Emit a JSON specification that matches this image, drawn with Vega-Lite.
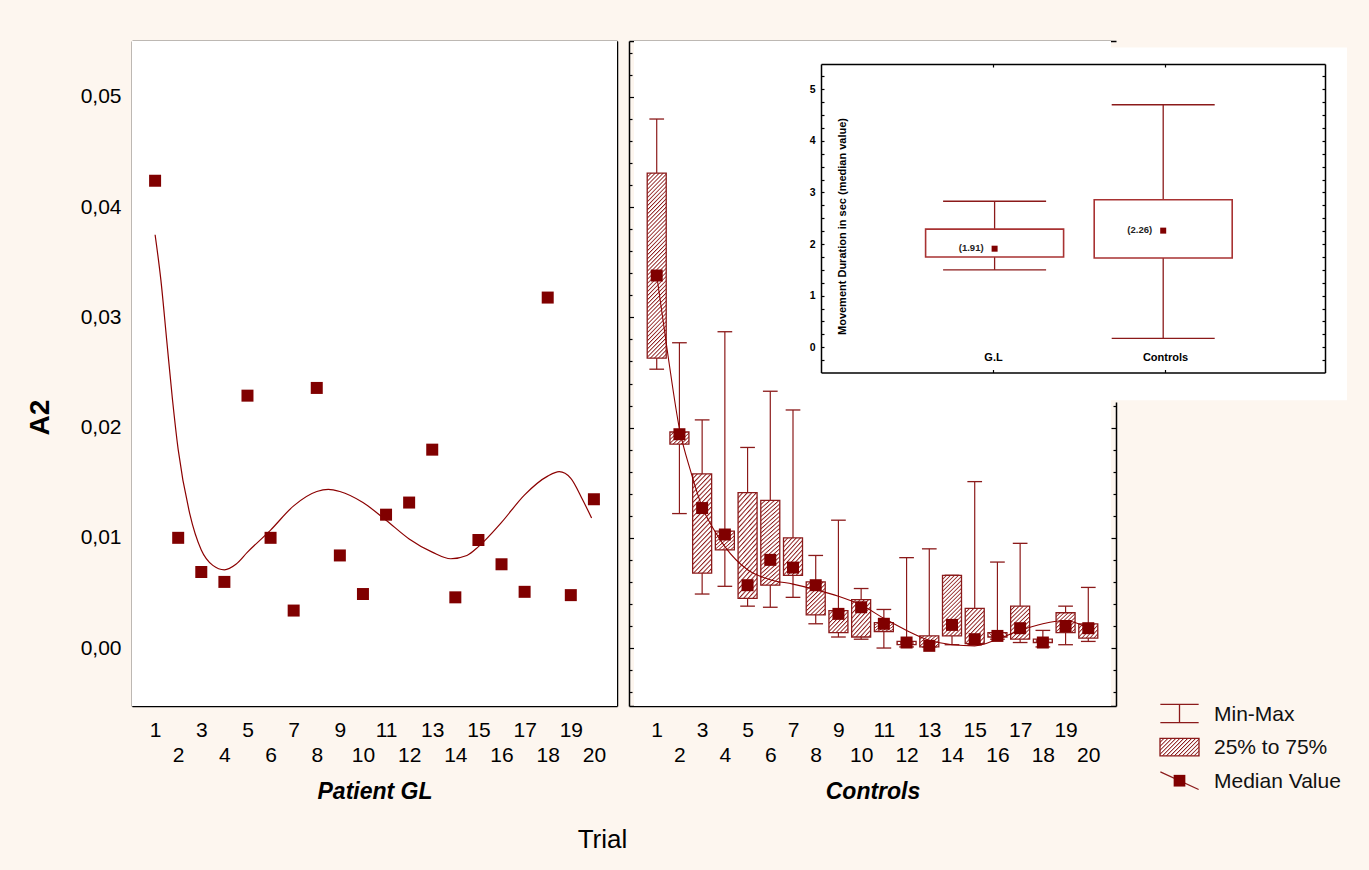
{
"$schema":"https://vega.github.io/schema/vega-lite/v6.json",
"width":1369,"height":870,"padding":0,"autosize":{"type":"none"},
"background":"#fdf6ef",
"config":{"view":{"stroke":null},"font":"Liberation Sans","text":{"font":"Liberation Sans"},
"axis":{"zindex":1,"grid":false,"domainColor":"#000","tickColor":"#000","domainWidth":1.5,"tickWidth":1.2,"labelColor":"#000","titleColor":"#000","labelFont":"Liberation Sans","titleFont":"Liberation Sans"}},
"datasets":{
"patient":[{"trial":1,"a2":0.0424},{"trial":2,"a2":0.0100},{"trial":3,"a2":0.0069},{"trial":4,"a2":0.0060},{"trial":5,"a2":0.0229},{"trial":6,"a2":0.0100},{"trial":7,"a2":0.0034},{"trial":8,"a2":0.0236},{"trial":9,"a2":0.0084},{"trial":10,"a2":0.0049},{"trial":11,"a2":0.0121},{"trial":12,"a2":0.0132},{"trial":13,"a2":0.0180},{"trial":14,"a2":0.0046},{"trial":15,"a2":0.0098},{"trial":16,"a2":0.0076},{"trial":17,"a2":0.0051},{"trial":18,"a2":0.0318},{"trial":19,"a2":0.0048},{"trial":20,"a2":0.0135}],
"patientFit":[{"trial":1,"fit":0.0375},{"trial":1.25,"fit":0.0334},{"trial":1.5,"fit":0.028},{"trial":1.75,"fit":0.0226},{"trial":2,"fit":0.018},{"trial":2.5,"fit":0.0122},{"trial":3,"fit":0.0089},{"trial":3.5,"fit":0.0075},{"trial":4,"fit":0.0071},{"trial":4.5,"fit":0.0076},{"trial":5,"fit":0.0087},{"trial":6,"fit":0.0107},{"trial":7,"fit":0.0129},{"trial":8,"fit":0.0142},{"trial":8.5,"fit":0.0144},{"trial":9,"fit":0.0142},{"trial":10,"fit":0.0132},{"trial":11,"fit":0.0116},{"trial":12,"fit":0.0099},{"trial":13,"fit":0.0087},{"trial":13.8,"fit":0.0081},{"trial":14.5,"fit":0.0084},{"trial":15,"fit":0.0092},{"trial":16,"fit":0.0114},{"trial":17,"fit":0.0139},{"trial":18,"fit":0.0156},{"trial":18.5,"fit":0.016},{"trial":19,"fit":0.0154},{"trial":19.5,"fit":0.0135},{"trial":19.9,"fit":0.0118}],
"controls":[
{"trial":1,"min":0.0253,"q1":0.0263,"median":0.0338,"q3":0.0431,"max":0.0480},
{"trial":2,"min":0.0122,"q1":0.0185,"median":0.0194,"q3":0.0196,"max":0.0277},
{"trial":3,"min":0.0049,"q1":0.0068,"median":0.0127,"q3":0.0158,"max":0.0207},
{"trial":4,"min":0.0056,"q1":0.0089,"median":0.0103,"q3":0.0106,"max":0.0287},
{"trial":5,"min":0.0038,"q1":0.0045,"median":0.0057,"q3":0.0141,"max":0.0182},
{"trial":6,"min":0.0037,"q1":0.0057,"median":0.0080,"q3":0.0134,"max":0.0233},
{"trial":7,"min":0.0046,"q1":0.0066,"median":0.0073,"q3":0.0100,"max":0.0216},
{"trial":8,"min":0.0022,"q1":0.0030,"median":0.0057,"q3":0.0060,"max":0.0084},
{"trial":9,"min":0.0010,"q1":0.0014,"median":0.0031,"q3":0.0034,"max":0.0116},
{"trial":10,"min":0.0008,"q1":0.0010,"median":0.0037,"q3":0.0044,"max":0.0054},
{"trial":11,"min":0.0000,"q1":0.0015,"median":0.0022,"q3":0.0023,"max":0.0035},
{"trial":12,"min":0.0001,"q1":0.0003,"median":0.0005,"q3":0.0006,"max":0.0082},
{"trial":13,"min":0.0001,"q1":0.0001,"median":0.0002,"q3":0.0011,"max":0.0090},
{"trial":14,"min":0.0003,"q1":0.0011,"median":0.0021,"q3":0.0066,"max":0.0066},
{"trial":15,"min":0.0003,"q1":0.0004,"median":0.0008,"q3":0.0036,"max":0.0151},
{"trial":16,"min":0.0008,"q1":0.0010,"median":0.0011,"q3":0.0014,"max":0.0078},
{"trial":17,"min":0.0005,"q1":0.0008,"median":0.0018,"q3":0.0038,"max":0.0095},
{"trial":18,"min":0.0001,"q1":0.0005,"median":0.0005,"q3":0.0008,"max":0.0016},
{"trial":19,"min":0.0003,"q1":0.0014,"median":0.0020,"q3":0.0032,"max":0.0038},
{"trial":20,"min":0.0006,"q1":0.0009,"median":0.0018,"q3":0.0022,"max":0.0055}],
"controlsFit":[{"trial":1,"fit":0.0338},{"trial":1.5,"fit":0.0265},{"trial":2,"fit":0.0199},{"trial":2.5,"fit":0.016},{"trial":3,"fit":0.0128},{"trial":3.5,"fit":0.0108},{"trial":4,"fit":0.0092},{"trial":5,"fit":0.0071},{"trial":6,"fit":0.0062},{"trial":7,"fit":0.0058},{"trial":8,"fit":0.0053},{"trial":9,"fit":0.0047},{"trial":10,"fit":0.0039},{"trial":11,"fit":0.0027},{"trial":12,"fit":0.0016},{"trial":13,"fit":0.0007},{"trial":14,"fit":0.0003},{"trial":15,"fit":0.0002},{"trial":16,"fit":0.0008},{"trial":17,"fit":0.0016},{"trial":18,"fit":0.0022},{"trial":19,"fit":0.0025},{"trial":20,"fit":0.0018}],
"inset":[{"group":"G.L","pos":1,"min":1.50,"q1":1.75,"median":1.91,"q3":2.29,"max":2.83,"label":"(1.91)"},{"group":"Controls","pos":2,"min":0.17,"q1":1.73,"median":2.26,"q3":2.86,"max":4.70,"label":"(2.26)"}],
"legend":[{"item":"Min-Max","row":0},{"item":"25% to 75%","row":1},{"item":"Median Value","row":2}]
},
"resolve":{"scale":{"x":"independent","y":"independent"},"axis":{"x":"independent","y":"independent"}},
"layer":[
{"layer":[
 {"data":{"values":[{}]},"mark":{"type":"rect","fill":"#ffffff"},
  "encoding":{
   "x":{"datum":0,"type":"quantitative","scale":{"domain":[0,21],"range":[132,617],"nice":false,"zero":false},
     "axis":{"orient":"bottom","offset":-164,"values":[1,2,3,4,5,6,7,8,9,10,11,12,13,14,15,16,17,18,19,20],"format":"d","tickSize":-6,"labelPadding":19,"labelFontSize":21,"labelLineHeight":25,"labelBaseline":"top","labelExpr":"datum.value % 2 == 0 ? ['', datum.label] : datum.label","labelOverlap":false,"labelFlush":false,"title":"Patient GL","titleFontSize":23,"titleFontWeight":"bold","titleFontStyle":"italic","titleY":92,"titleBaseline":"alphabetic"}},
   "x2":{"datum":21},
   "y":{"datum":-0.00526,"type":"quantitative","scale":{"domain":[-0.00526,0.05508],"range":[706,41],"nice":false,"zero":false},
     "axis":{"orient":"left","offset":-132,"values":[0,0.01,0.02,0.03,0.04,0.05],"tickSize":-5,"labelPadding":16,"labelFontSize":21,"labelExpr":"replace(format(datum.value,'.2f'),'.',',')","labelOverlap":false,"title":"A2","titleFontSize":28,"titleFontWeight":"bold","titleX":-92,"titleY":417,"titleAngle":-90,"titleAlign":"center","titleBaseline":"middle"}},
   "y2":{"datum":0.05508}}},
 {"data":{"name":"patientFit"},"mark":{"type":"line","color":"#8b0000","strokeWidth":1.2,"interpolate":"monotone"},
  "encoding":{"x":{"field":"trial","type":"quantitative","scale":{"domain":[0,21],"range":[132,617],"nice":false,"zero":false}},"y":{"field":"fit","type":"quantitative","scale":{"domain":[-0.00526,0.05508],"range":[706,41],"nice":false,"zero":false}}}},
 {"data":{"name":"patient"},"mark":{"type":"point","shape":"square","filled":true,"size":144,"color":"#800000","opacity":1},
  "encoding":{"x":{"field":"trial","type":"quantitative","scale":{"domain":[0,21],"range":[132,617],"nice":false,"zero":false}},"y":{"field":"a2","type":"quantitative","scale":{"domain":[-0.00526,0.05508],"range":[706,41],"nice":false,"zero":false}}}}
]},
{"data":{"values":[{}]},"mark":{"type":"point","opacity":0},
 "encoding":{
  "x":{"datum":1,"type":"quantitative","scale":{"domain":[0,21],"range":[132,617],"nice":false,"zero":false},"axis":{"orient":"top","offset":-41,"values":[1,2,3,4,5,6,7,8,9,10,11,12,13,14,15,16,17,18,19,20],"tickSize":-6,"labels":false,"title":null}},
  "y":{"datum":0,"type":"quantitative","scale":{"domain":[-0.00526,0.05508],"range":[706,41],"nice":false,"zero":false},"axis":{"orient":"right","offset":-752,"values":[0,0.01,0.02,0.03,0.04,0.05],"tickSize":-5,"labels":false,"title":null}}}},
{"data":{"values":[{}]},"mark":{"type":"point","opacity":0},
 "encoding":{"y":{"datum":0,"type":"quantitative","scale":{"domain":[-0.00526,0.05508],"range":[706,41],"nice":false,"zero":false},"axis":{"orient":"left","offset":-132,"values":[-0.004,-0.002,0.002,0.004,0.006,0.008,0.012,0.014,0.016,0.018,0.022,0.024,0.026,0.028,0.032,0.034,0.036,0.038,0.042,0.044,0.046,0.048,0.052,0.054],"tickSize":-3,"labels":false,"domain":false,"title":null}}}},
{"data":{"values":[{}]},"mark":{"type":"point","opacity":0},
 "encoding":{"y":{"datum":0,"type":"quantitative","scale":{"domain":[-0.00526,0.05508],"range":[706,41],"nice":false,"zero":false},"axis":{"orient":"right","offset":-752,"values":[-0.004,-0.002,0.002,0.004,0.006,0.008,0.012,0.014,0.016,0.018,0.022,0.024,0.026,0.028,0.032,0.034,0.036,0.038,0.042,0.044,0.046,0.048,0.052,0.054],"tickSize":-3,"labels":false,"domain":false,"title":null}}}},
{"layer":[
 {"data":{"values":[{}]},"mark":{"type":"rect","fill":"#ffffff"},
  "encoding":{
   "x":{"datum":0,"type":"quantitative","scale":{"domain":[0,21],"range":[629,1116],"nice":false,"zero":false},
     "axis":{"orient":"bottom","offset":-164,"values":[1,2,3,4,5,6,7,8,9,10,11,12,13,14,15,16,17,18,19,20],"format":"d","tickSize":-6,"labelPadding":19,"labelFontSize":21,"labelLineHeight":25,"labelBaseline":"top","labelExpr":"datum.value % 2 == 0 ? ['', datum.label] : datum.label","labelOverlap":false,"labelFlush":false,"title":"Controls","titleFontSize":23,"titleFontWeight":"bold","titleFontStyle":"italic","titleY":92,"titleBaseline":"alphabetic"}},
   "x2":{"datum":21},
   "y":{"datum":-0.00526,"type":"quantitative","scale":{"domain":[-0.00526,0.05508],"range":[706,41],"nice":false,"zero":false},
     "axis":{"orient":"left","offset":-629,"values":[0,0.01,0.02,0.03,0.04,0.05],"tickSize":-5,"labels":false,"title":null}},
   "y2":{"datum":0.05508}}},
 {"data":{"name":"controls"},"mark":{"type":"rule","color":"#8b1a1a","strokeWidth":1.2},
  "encoding":{"x":{"field":"trial","type":"quantitative","scale":{"domain":[0,21],"range":[629,1116],"nice":false,"zero":false}},"y":{"field":"min","type":"quantitative","scale":{"domain":[-0.00526,0.05508],"range":[706,41],"nice":false,"zero":false}},"y2":{"field":"max"}}},
 {"data":{"name":"controls"},"mark":{"type":"point","shape":"M-1,0H1","size":216,"filled":false,"color":"#8b1a1a","strokeWidth":1.3,"opacity":1},
  "encoding":{"x":{"field":"trial","type":"quantitative","scale":{"domain":[0,21],"range":[629,1116],"nice":false,"zero":false}},"y":{"field":"min","type":"quantitative","scale":{"domain":[-0.00526,0.05508],"range":[706,41],"nice":false,"zero":false}}}},
 {"data":{"name":"controls"},"mark":{"type":"point","shape":"M-1,0H1","size":216,"filled":false,"color":"#8b1a1a","strokeWidth":1.3,"opacity":1},
  "encoding":{"x":{"field":"trial","type":"quantitative","scale":{"domain":[0,21],"range":[629,1116],"nice":false,"zero":false}},"y":{"field":"max","type":"quantitative","scale":{"domain":[-0.00526,0.05508],"range":[706,41],"nice":false,"zero":false}}}},
 {"data":{"name":"controls"},"mark":{"type":"bar","size":19,"stroke":"#8b1a1a","strokeWidth":1.3},
  "encoding":{"x":{"field":"trial","type":"quantitative","scale":{"domain":[0,21],"range":[629,1116],"nice":false,"zero":false}},"y":{"field":"q1","type":"quantitative","scale":{"domain":[-0.00526,0.05508],"range":[706,41],"nice":false,"zero":false}},"y2":{"field":"q3"},
   "fill":{"condition":[
    {"test":"datum.q3 - datum.q1 > 0.014","value":{"gradient":"linear","x1":0,"y1":0,"x2":0.1147,"y2":1.093,"stops":[
{"offset":0,"color":"#8b1a1a"},{"offset":0.007,"color":"#fff"},{"offset":0.015,"color":"#fff"},
{"offset":0.02,"color":"#8b1a1a"},{"offset":0.027,"color":"#fff"},{"offset":0.035,"color":"#fff"},
{"offset":0.04,"color":"#8b1a1a"},{"offset":0.047,"color":"#fff"},{"offset":0.055,"color":"#fff"},
{"offset":0.06,"color":"#8b1a1a"},{"offset":0.067,"color":"#fff"},{"offset":0.075,"color":"#fff"},
{"offset":0.08,"color":"#8b1a1a"},{"offset":0.087,"color":"#fff"},{"offset":0.095,"color":"#fff"},
{"offset":0.1,"color":"#8b1a1a"},{"offset":0.107,"color":"#fff"},{"offset":0.115,"color":"#fff"},
{"offset":0.12,"color":"#8b1a1a"},{"offset":0.127,"color":"#fff"},{"offset":0.135,"color":"#fff"},
{"offset":0.14,"color":"#8b1a1a"},{"offset":0.147,"color":"#fff"},{"offset":0.155,"color":"#fff"},
{"offset":0.16,"color":"#8b1a1a"},{"offset":0.167,"color":"#fff"},{"offset":0.175,"color":"#fff"},
{"offset":0.18,"color":"#8b1a1a"},{"offset":0.187,"color":"#fff"},{"offset":0.195,"color":"#fff"},
{"offset":0.2,"color":"#8b1a1a"},{"offset":0.207,"color":"#fff"},{"offset":0.215,"color":"#fff"},
{"offset":0.22,"color":"#8b1a1a"},{"offset":0.227,"color":"#fff"},{"offset":0.235,"color":"#fff"},
{"offset":0.24,"color":"#8b1a1a"},{"offset":0.247,"color":"#fff"},{"offset":0.255,"color":"#fff"},
{"offset":0.26,"color":"#8b1a1a"},{"offset":0.267,"color":"#fff"},{"offset":0.275,"color":"#fff"},
{"offset":0.28,"color":"#8b1a1a"},{"offset":0.287,"color":"#fff"},{"offset":0.295,"color":"#fff"},
{"offset":0.3,"color":"#8b1a1a"},{"offset":0.307,"color":"#fff"},{"offset":0.315,"color":"#fff"},
{"offset":0.32,"color":"#8b1a1a"},{"offset":0.327,"color":"#fff"},{"offset":0.335,"color":"#fff"},
{"offset":0.34,"color":"#8b1a1a"},{"offset":0.347,"color":"#fff"},{"offset":0.355,"color":"#fff"},
{"offset":0.36,"color":"#8b1a1a"},{"offset":0.367,"color":"#fff"},{"offset":0.375,"color":"#fff"},
{"offset":0.38,"color":"#8b1a1a"},{"offset":0.387,"color":"#fff"},{"offset":0.395,"color":"#fff"},
{"offset":0.4,"color":"#8b1a1a"},{"offset":0.407,"color":"#fff"},{"offset":0.415,"color":"#fff"},
{"offset":0.42,"color":"#8b1a1a"},{"offset":0.427,"color":"#fff"},{"offset":0.435,"color":"#fff"},
{"offset":0.44,"color":"#8b1a1a"},{"offset":0.447,"color":"#fff"},{"offset":0.455,"color":"#fff"},
{"offset":0.46,"color":"#8b1a1a"},{"offset":0.467,"color":"#fff"},{"offset":0.475,"color":"#fff"},
{"offset":0.48,"color":"#8b1a1a"},{"offset":0.487,"color":"#fff"},{"offset":0.495,"color":"#fff"},
{"offset":0.5,"color":"#8b1a1a"},{"offset":0.507,"color":"#fff"},{"offset":0.515,"color":"#fff"},
{"offset":0.52,"color":"#8b1a1a"},{"offset":0.527,"color":"#fff"},{"offset":0.535,"color":"#fff"},
{"offset":0.54,"color":"#8b1a1a"},{"offset":0.547,"color":"#fff"},{"offset":0.555,"color":"#fff"},
{"offset":0.56,"color":"#8b1a1a"},{"offset":0.567,"color":"#fff"},{"offset":0.575,"color":"#fff"},
{"offset":0.58,"color":"#8b1a1a"},{"offset":0.587,"color":"#fff"},{"offset":0.595,"color":"#fff"},
{"offset":0.6,"color":"#8b1a1a"},{"offset":0.607,"color":"#fff"},{"offset":0.615,"color":"#fff"},
{"offset":0.62,"color":"#8b1a1a"},{"offset":0.627,"color":"#fff"},{"offset":0.635,"color":"#fff"},
{"offset":0.64,"color":"#8b1a1a"},{"offset":0.647,"color":"#fff"},{"offset":0.655,"color":"#fff"},
{"offset":0.66,"color":"#8b1a1a"},{"offset":0.667,"color":"#fff"},{"offset":0.675,"color":"#fff"},
{"offset":0.68,"color":"#8b1a1a"},{"offset":0.687,"color":"#fff"},{"offset":0.695,"color":"#fff"},
{"offset":0.7,"color":"#8b1a1a"},{"offset":0.707,"color":"#fff"},{"offset":0.715,"color":"#fff"},
{"offset":0.72,"color":"#8b1a1a"},{"offset":0.727,"color":"#fff"},{"offset":0.735,"color":"#fff"},
{"offset":0.74,"color":"#8b1a1a"},{"offset":0.747,"color":"#fff"},{"offset":0.755,"color":"#fff"},
{"offset":0.76,"color":"#8b1a1a"},{"offset":0.767,"color":"#fff"},{"offset":0.775,"color":"#fff"},
{"offset":0.78,"color":"#8b1a1a"},{"offset":0.787,"color":"#fff"},{"offset":0.795,"color":"#fff"},
{"offset":0.8,"color":"#8b1a1a"},{"offset":0.807,"color":"#fff"},{"offset":0.815,"color":"#fff"},
{"offset":0.82,"color":"#8b1a1a"},{"offset":0.827,"color":"#fff"},{"offset":0.835,"color":"#fff"},
{"offset":0.84,"color":"#8b1a1a"},{"offset":0.847,"color":"#fff"},{"offset":0.855,"color":"#fff"},
{"offset":0.86,"color":"#8b1a1a"},{"offset":0.867,"color":"#fff"},{"offset":0.875,"color":"#fff"},
{"offset":0.88,"color":"#8b1a1a"},{"offset":0.887,"color":"#fff"},{"offset":0.895,"color":"#fff"},
{"offset":0.9,"color":"#8b1a1a"},{"offset":0.907,"color":"#fff"},{"offset":0.915,"color":"#fff"},
{"offset":0.92,"color":"#8b1a1a"},{"offset":0.927,"color":"#fff"},{"offset":0.935,"color":"#fff"},
{"offset":0.94,"color":"#8b1a1a"},{"offset":0.947,"color":"#fff"},{"offset":0.955,"color":"#fff"},
{"offset":0.96,"color":"#8b1a1a"},{"offset":0.967,"color":"#fff"},{"offset":0.975,"color":"#fff"},
{"offset":0.98,"color":"#8b1a1a"},{"offset":0.987,"color":"#fff"},{"offset":0.995,"color":"#fff"},
{"offset":1,"color":"#8b1a1a"}]}},
    {"test":"datum.q3 - datum.q1 > 0.0068","value":{"gradient":"linear","x1":0,"y1":0,"x2":0.231,"y2":1.154,"stops":[
{"offset":0,"color":"#8b1a1a"},{"offset":0.014,"color":"#fff"},{"offset":0.03,"color":"#fff"},
{"offset":0.04,"color":"#8b1a1a"},{"offset":0.054,"color":"#fff"},{"offset":0.07,"color":"#fff"},
{"offset":0.08,"color":"#8b1a1a"},{"offset":0.094,"color":"#fff"},{"offset":0.11,"color":"#fff"},
{"offset":0.12,"color":"#8b1a1a"},{"offset":0.134,"color":"#fff"},{"offset":0.15,"color":"#fff"},
{"offset":0.16,"color":"#8b1a1a"},{"offset":0.174,"color":"#fff"},{"offset":0.19,"color":"#fff"},
{"offset":0.2,"color":"#8b1a1a"},{"offset":0.214,"color":"#fff"},{"offset":0.23,"color":"#fff"},
{"offset":0.24,"color":"#8b1a1a"},{"offset":0.254,"color":"#fff"},{"offset":0.27,"color":"#fff"},
{"offset":0.28,"color":"#8b1a1a"},{"offset":0.294,"color":"#fff"},{"offset":0.31,"color":"#fff"},
{"offset":0.32,"color":"#8b1a1a"},{"offset":0.334,"color":"#fff"},{"offset":0.35,"color":"#fff"},
{"offset":0.36,"color":"#8b1a1a"},{"offset":0.374,"color":"#fff"},{"offset":0.39,"color":"#fff"},
{"offset":0.4,"color":"#8b1a1a"},{"offset":0.414,"color":"#fff"},{"offset":0.43,"color":"#fff"},
{"offset":0.44,"color":"#8b1a1a"},{"offset":0.454,"color":"#fff"},{"offset":0.47,"color":"#fff"},
{"offset":0.48,"color":"#8b1a1a"},{"offset":0.494,"color":"#fff"},{"offset":0.51,"color":"#fff"},
{"offset":0.52,"color":"#8b1a1a"},{"offset":0.534,"color":"#fff"},{"offset":0.55,"color":"#fff"},
{"offset":0.56,"color":"#8b1a1a"},{"offset":0.574,"color":"#fff"},{"offset":0.59,"color":"#fff"},
{"offset":0.6,"color":"#8b1a1a"},{"offset":0.614,"color":"#fff"},{"offset":0.63,"color":"#fff"},
{"offset":0.64,"color":"#8b1a1a"},{"offset":0.654,"color":"#fff"},{"offset":0.67,"color":"#fff"},
{"offset":0.68,"color":"#8b1a1a"},{"offset":0.694,"color":"#fff"},{"offset":0.71,"color":"#fff"},
{"offset":0.72,"color":"#8b1a1a"},{"offset":0.734,"color":"#fff"},{"offset":0.75,"color":"#fff"},
{"offset":0.76,"color":"#8b1a1a"},{"offset":0.774,"color":"#fff"},{"offset":0.79,"color":"#fff"},
{"offset":0.8,"color":"#8b1a1a"},{"offset":0.814,"color":"#fff"},{"offset":0.83,"color":"#fff"},
{"offset":0.84,"color":"#8b1a1a"},{"offset":0.854,"color":"#fff"},{"offset":0.87,"color":"#fff"},
{"offset":0.88,"color":"#8b1a1a"},{"offset":0.894,"color":"#fff"},{"offset":0.91,"color":"#fff"},
{"offset":0.92,"color":"#8b1a1a"},{"offset":0.934,"color":"#fff"},{"offset":0.95,"color":"#fff"},
{"offset":0.96,"color":"#8b1a1a"},{"offset":0.974,"color":"#fff"},{"offset":0.99,"color":"#fff"},
{"offset":1,"color":"#8b1a1a"}]}},
    {"test":"datum.q3 - datum.q1 > 0.0045","value":{"gradient":"linear","x1":0,"y1":0,"x2":0.373,"y2":1.196,"stops":[
{"offset":0,"color":"#8b1a1a"},{"offset":0.0175,"color":"#fff"},{"offset":0.0375,"color":"#fff"},
{"offset":0.05,"color":"#8b1a1a"},{"offset":0.0675,"color":"#fff"},{"offset":0.0875,"color":"#fff"},
{"offset":0.1,"color":"#8b1a1a"},{"offset":0.1175,"color":"#fff"},{"offset":0.1375,"color":"#fff"},
{"offset":0.15,"color":"#8b1a1a"},{"offset":0.1675,"color":"#fff"},{"offset":0.1875,"color":"#fff"},
{"offset":0.2,"color":"#8b1a1a"},{"offset":0.2175,"color":"#fff"},{"offset":0.2375,"color":"#fff"},
{"offset":0.25,"color":"#8b1a1a"},{"offset":0.2675,"color":"#fff"},{"offset":0.2875,"color":"#fff"},
{"offset":0.3,"color":"#8b1a1a"},{"offset":0.3175,"color":"#fff"},{"offset":0.3375,"color":"#fff"},
{"offset":0.35,"color":"#8b1a1a"},{"offset":0.3675,"color":"#fff"},{"offset":0.3875,"color":"#fff"},
{"offset":0.4,"color":"#8b1a1a"},{"offset":0.4175,"color":"#fff"},{"offset":0.4375,"color":"#fff"},
{"offset":0.45,"color":"#8b1a1a"},{"offset":0.4675,"color":"#fff"},{"offset":0.4875,"color":"#fff"},
{"offset":0.5,"color":"#8b1a1a"},{"offset":0.5175,"color":"#fff"},{"offset":0.5375,"color":"#fff"},
{"offset":0.55,"color":"#8b1a1a"},{"offset":0.5675,"color":"#fff"},{"offset":0.5875,"color":"#fff"},
{"offset":0.6,"color":"#8b1a1a"},{"offset":0.6175,"color":"#fff"},{"offset":0.6375,"color":"#fff"},
{"offset":0.65,"color":"#8b1a1a"},{"offset":0.6675,"color":"#fff"},{"offset":0.6875,"color":"#fff"},
{"offset":0.7,"color":"#8b1a1a"},{"offset":0.7175,"color":"#fff"},{"offset":0.7375,"color":"#fff"},
{"offset":0.75,"color":"#8b1a1a"},{"offset":0.7675,"color":"#fff"},{"offset":0.7875,"color":"#fff"},
{"offset":0.8,"color":"#8b1a1a"},{"offset":0.8175,"color":"#fff"},{"offset":0.8375,"color":"#fff"},
{"offset":0.85,"color":"#8b1a1a"},{"offset":0.8675,"color":"#fff"},{"offset":0.8875,"color":"#fff"},
{"offset":0.9,"color":"#8b1a1a"},{"offset":0.9175,"color":"#fff"},{"offset":0.9375,"color":"#fff"},
{"offset":0.95,"color":"#8b1a1a"},{"offset":0.9675,"color":"#fff"},{"offset":0.9875,"color":"#fff"},
{"offset":1,"color":"#8b1a1a"}]}},
    {"test":"datum.q3 - datum.q1 > 0.0025","value":{"gradient":"linear","x1":0,"y1":0,"x2":0.664,"y2":1.187,"stops":[
{"offset":0,"color":"#8b1a1a"},{"offset":0.028,"color":"#fff"},{"offset":0.06,"color":"#fff"},
{"offset":0.08,"color":"#8b1a1a"},{"offset":0.108,"color":"#fff"},{"offset":0.14,"color":"#fff"},
{"offset":0.16,"color":"#8b1a1a"},{"offset":0.188,"color":"#fff"},{"offset":0.22,"color":"#fff"},
{"offset":0.24,"color":"#8b1a1a"},{"offset":0.268,"color":"#fff"},{"offset":0.3,"color":"#fff"},
{"offset":0.32,"color":"#8b1a1a"},{"offset":0.348,"color":"#fff"},{"offset":0.38,"color":"#fff"},
{"offset":0.4,"color":"#8b1a1a"},{"offset":0.428,"color":"#fff"},{"offset":0.46,"color":"#fff"},
{"offset":0.48,"color":"#8b1a1a"},{"offset":0.508,"color":"#fff"},{"offset":0.54,"color":"#fff"},
{"offset":0.56,"color":"#8b1a1a"},{"offset":0.588,"color":"#fff"},{"offset":0.62,"color":"#fff"},
{"offset":0.64,"color":"#8b1a1a"},{"offset":0.668,"color":"#fff"},{"offset":0.7,"color":"#fff"},
{"offset":0.72,"color":"#8b1a1a"},{"offset":0.748,"color":"#fff"},{"offset":0.78,"color":"#fff"},
{"offset":0.8,"color":"#8b1a1a"},{"offset":0.828,"color":"#fff"},{"offset":0.86,"color":"#fff"},
{"offset":0.88,"color":"#8b1a1a"},{"offset":0.908,"color":"#fff"},{"offset":0.94,"color":"#fff"},
{"offset":0.96,"color":"#8b1a1a"},{"offset":0.988,"color":"#fff"},{"offset":1,"color":"#fff"}]}},
    {"test":"datum.q3 - datum.q1 > 0.0015","value":{"gradient":"linear","x1":0,"y1":0,"x2":0.948,"y2":1.047,"stops":[
{"offset":0,"color":"#8b1a1a"},{"offset":0.035,"color":"#fff"},{"offset":0.075,"color":"#fff"},
{"offset":0.1,"color":"#8b1a1a"},{"offset":0.135,"color":"#fff"},{"offset":0.175,"color":"#fff"},
{"offset":0.2,"color":"#8b1a1a"},{"offset":0.235,"color":"#fff"},{"offset":0.275,"color":"#fff"},
{"offset":0.3,"color":"#8b1a1a"},{"offset":0.335,"color":"#fff"},{"offset":0.375,"color":"#fff"},
{"offset":0.4,"color":"#8b1a1a"},{"offset":0.435,"color":"#fff"},{"offset":0.475,"color":"#fff"},
{"offset":0.5,"color":"#8b1a1a"},{"offset":0.535,"color":"#fff"},{"offset":0.575,"color":"#fff"},
{"offset":0.6,"color":"#8b1a1a"},{"offset":0.635,"color":"#fff"},{"offset":0.675,"color":"#fff"},
{"offset":0.7,"color":"#8b1a1a"},{"offset":0.735,"color":"#fff"},{"offset":0.775,"color":"#fff"},
{"offset":0.8,"color":"#8b1a1a"},{"offset":0.835,"color":"#fff"},{"offset":0.875,"color":"#fff"},
{"offset":0.9,"color":"#8b1a1a"},{"offset":0.935,"color":"#fff"},{"offset":0.975,"color":"#fff"},
{"offset":1,"color":"#8b1a1a"}]}}],
   "value":{"gradient":"linear","x1":0,"y1":0,"x2":1.147,"y2":0.785,"stops":[
{"offset":0,"color":"#8b1a1a"},{"offset":0.044,"color":"#fff"},{"offset":0.094,"color":"#fff"},
{"offset":0.125,"color":"#8b1a1a"},{"offset":0.169,"color":"#fff"},{"offset":0.219,"color":"#fff"},
{"offset":0.25,"color":"#8b1a1a"},{"offset":0.294,"color":"#fff"},{"offset":0.344,"color":"#fff"},
{"offset":0.375,"color":"#8b1a1a"},{"offset":0.419,"color":"#fff"},{"offset":0.469,"color":"#fff"},
{"offset":0.5,"color":"#8b1a1a"},{"offset":0.544,"color":"#fff"},{"offset":0.594,"color":"#fff"},
{"offset":0.625,"color":"#8b1a1a"},{"offset":0.669,"color":"#fff"},{"offset":0.719,"color":"#fff"},
{"offset":0.75,"color":"#8b1a1a"},{"offset":0.794,"color":"#fff"},{"offset":0.844,"color":"#fff"},
{"offset":0.875,"color":"#8b1a1a"},{"offset":0.919,"color":"#fff"},{"offset":0.969,"color":"#fff"},
{"offset":1,"color":"#8b1a1a"}]}}}},
 {"data":{"name":"controlsFit"},"mark":{"type":"line","color":"#8b0000","strokeWidth":1.1,"interpolate":"monotone"},
  "encoding":{"x":{"field":"trial","type":"quantitative","scale":{"domain":[0,21],"range":[629,1116],"nice":false,"zero":false}},"y":{"field":"fit","type":"quantitative","scale":{"domain":[-0.00526,0.05508],"range":[706,41],"nice":false,"zero":false}}}},
 {"data":{"name":"controls"},"mark":{"type":"point","shape":"square","filled":true,"size":144,"color":"#800000","opacity":1},
  "encoding":{"x":{"field":"trial","type":"quantitative","scale":{"domain":[0,21],"range":[629,1116],"nice":false,"zero":false}},"y":{"field":"median","type":"quantitative","scale":{"domain":[-0.00526,0.05508],"range":[706,41],"nice":false,"zero":false}}}}
]},
{"data":{"values":[{}]},"mark":{"type":"point","opacity":0},
 "encoding":{"x":{"datum":1,"type":"quantitative","scale":{"domain":[0,21],"range":[629,1116],"nice":false,"zero":false},"axis":{"orient":"top","offset":-41,"values":[1,2,3,4,5,6,7,8,9,10,11,12,13,14,15,16,17,18,19,20],"tickSize":-6,"labels":false,"title":null}},
  "y":{"datum":0,"type":"quantitative","scale":{"domain":[-0.00526,0.022324],"range":[706,402],"nice":false,"zero":false},"axis":{"orient":"right","offset":-253,"values":[0,0.01,0.02],"tickSize":-5,"labels":false,"title":null}}}},
{"data":{"values":[{}]},"mark":{"type":"point","opacity":0},
 "encoding":{"y":{"datum":0,"type":"quantitative","scale":{"domain":[-0.00526,0.05508],"range":[706,41],"nice":false,"zero":false},"axis":{"orient":"left","offset":-629,"values":[-0.004,-0.002,0.002,0.004,0.006,0.008,0.012,0.014,0.016,0.018,0.022,0.024,0.026,0.028,0.032,0.034,0.036,0.038,0.042,0.044,0.046,0.048,0.052,0.054],"tickSize":-3,"labels":false,"domain":false,"title":null}}}},
{"data":{"values":[{}]},"mark":{"type":"point","opacity":0},
 "encoding":{"y":{"datum":0,"type":"quantitative","scale":{"domain":[-0.00526,0.022324],"range":[706,402],"nice":false,"zero":false},"axis":{"orient":"right","offset":-253,"values":[-0.004,-0.002,0.002,0.004,0.006,0.008,0.012,0.014,0.016,0.018,0.022],"tickSize":-3,"labels":false,"domain":false,"title":null}}}},
{"data":{"values":[{}]},"mark":{"type":"point","opacity":0},
 "encoding":{"x":{"datum":0.5,"type":"quantitative","scale":{"domain":[0,1],"range":[87,1117],"nice":false,"zero":false},"axis":{"orient":"bottom","offset":-164,"ticks":false,"labels":false,"domain":false,"title":"Trial","titleFontSize":26,"titleFontWeight":"normal","titleY":141,"titleBaseline":"alphabetic"}}}},
{"layer":[
 {"data":{"values":[{}]},"mark":{"type":"rect","fill":"#ffffff"},
  "encoding":{
   "x":{"datum":-0.052,"type":"quantitative","scale":{"domain":[0,2.93],"range":[821,1325],"nice":false,"zero":false},"axis":null},
   "x2":{"datum":3.09},
   "y":{"datum":-1.03,"type":"quantitative","scale":{"domain":[-0.49,5.49],"range":[372.5,64],"nice":false,"zero":false},"axis":null},
   "y2":{"datum":5.81}}},
 {"data":{"name":"inset"},"mark":{"type":"rule","color":"#8b1a1a","strokeWidth":1.3},
  "encoding":{"x":{"field":"pos","type":"quantitative","scale":{"domain":[0,2.93],"range":[821,1325],"nice":false,"zero":false},"axis":null},"y":{"field":"min","type":"quantitative","scale":{"domain":[-0.49,5.49],"range":[372.5,64],"nice":false,"zero":false},"axis":null},"y2":{"field":"max"}}},
 {"data":{"name":"inset"},"mark":{"type":"point","shape":"M-1,0H1","size":10609,"filled":false,"color":"#8b1a1a","strokeWidth":1.3,"opacity":1},
  "encoding":{"x":{"field":"pos","type":"quantitative","scale":{"domain":[0,2.93],"range":[821,1325],"nice":false,"zero":false},"axis":null},"y":{"field":"min","type":"quantitative","scale":{"domain":[-0.49,5.49],"range":[372.5,64],"nice":false,"zero":false},"axis":null}}},
 {"data":{"name":"inset"},"mark":{"type":"point","shape":"M-1,0H1","size":10609,"filled":false,"color":"#8b1a1a","strokeWidth":1.3,"opacity":1},
  "encoding":{"x":{"field":"pos","type":"quantitative","scale":{"domain":[0,2.93],"range":[821,1325],"nice":false,"zero":false},"axis":null},"y":{"field":"max","type":"quantitative","scale":{"domain":[-0.49,5.49],"range":[372.5,64],"nice":false,"zero":false},"axis":null}}},
 {"data":{"name":"inset"},"mark":{"type":"bar","size":138,"fill":"#ffffff","stroke":"#a83232","strokeWidth":1.6},
  "encoding":{"x":{"field":"pos","type":"quantitative","scale":{"domain":[0,2.93],"range":[821,1325],"nice":false,"zero":false},"axis":null},"y":{"field":"q1","type":"quantitative","scale":{"domain":[-0.49,5.49],"range":[372.5,64],"nice":false,"zero":false},"axis":null},"y2":{"field":"q3"}}},
 {"data":{"name":"inset"},"mark":{"type":"point","shape":"square","filled":true,"size":36,"color":"#800000","opacity":1},
  "encoding":{"x":{"field":"pos","type":"quantitative","scale":{"domain":[0,2.93],"range":[821,1325],"nice":false,"zero":false},"axis":null},"y":{"field":"median","type":"quantitative","scale":{"domain":[-0.49,5.49],"range":[372.5,64],"nice":false,"zero":false},"axis":null}}},
 {"data":{"name":"inset"},"mark":{"type":"text","align":"right","baseline":"middle","dx":-11,"dy":-1,"fontSize":9.5,"fontWeight":"bold","color":"#222"},
  "encoding":{"x":{"field":"pos","type":"quantitative","scale":{"domain":[0,2.93],"range":[821,1325],"nice":false,"zero":false},"axis":null},"y":{"field":"median","type":"quantitative","scale":{"domain":[-0.49,5.49],"range":[372.5,64],"nice":false,"zero":false},"axis":null},"text":{"field":"label"}}}
]},
{"data":{"values":[{}]},"mark":{"type":"point","opacity":0},
 "encoding":{
  "x":{"datum":1,"type":"quantitative","scale":{"domain":[0,2.93],"range":[821,1325],"nice":false,"zero":false},
     "axis":{"zindex":2,"orient":"bottom","offset":-497.5,"values":[1,2],"tickSize":-3,"labelPadding":-12.5,"labelBaseline":"middle","labelFontSize":11,"labelFontWeight":"bold","labelExpr":"datum.value == 1 ? 'G.L' : 'Controls'","labelOverlap":false,"labelFlush":false,"title":null}},
  "y":{"datum":1,"type":"quantitative","scale":{"domain":[-0.49,5.49],"range":[372.5,64],"nice":false,"zero":false},
     "axis":{"zindex":2,"orient":"left","offset":-821,"values":[-0.25,0,0.25,0.5,0.75,1,1.25,1.5,1.75,2,2.25,2.5,2.75,3,3.25,3.5,3.75,4,4.25,4.5,4.75,5,5.25],"tickSize":-3,"labelPadding":9,"labelFontSize":10.5,"labelFontWeight":"bold","labelExpr":"datum.value % 1 == 0 ? format(datum.value, 'd') : ''","labelOverlap":false,"title":"Movement Duration in sec (median value)","titleFontSize":11,"titleFontWeight":"bold","titleX":21,"titleY":226,"titleAngle":-90,"titleAlign":"center","titleBaseline":"middle"}}}},
{"data":{"values":[{}]},"mark":{"type":"point","opacity":0},
 "encoding":{"x":{"datum":1,"type":"quantitative","scale":{"domain":[0,2.93],"range":[821,1325],"nice":false,"zero":false},"axis":{"zindex":2,"orient":"top","offset":-64,"values":[1,2],"tickSize":-3,"labels":false,"title":null}},
  "y":{"datum":1,"type":"quantitative","scale":{"domain":[-0.49,5.49],"range":[372.5,64],"nice":false,"zero":false},"axis":{"zindex":2,"orient":"right","offset":-44,"values":[-0.25,0,0.25,0.5,0.75,1,1.25,1.5,1.75,2,2.25,2.5,2.75,3,3.25,3.5,3.75,4,4.25,4.5,4.75,5,5.25],"tickSize":-3,"labels":false,"title":null}}}},
{"data":{"name":"legend"},"layer":[
 {"transform":[{"filter":"datum.row == 0"}],"mark":{"type":"point","shape":"M-1,-0.48H1M0,-0.48V0.48M-1,0.48H1","size":1467,"filled":false,"color":"#8b1a1a","strokeWidth":1.3,"opacity":1},
  "encoding":{"x":{"datum":0.5,"type":"quantitative","scale":{"domain":[0,1],"range":[1160,1199],"nice":false,"zero":false},"axis":null},"y":{"field":"row","type":"quantitative","scale":{"domain":[0,2],"range":[713.5,780.7],"nice":false,"zero":false},"axis":null}}},
 {"transform":[{"filter":"datum.row == 1"}],"mark":{"type":"point","shape":"M-1,-0.45H1V0.45H-1Z","size":1521,"filled":true,"stroke":"#8b1a1a","strokeWidth":1.3,"opacity":1,
   "fill":{"gradient":"linear","x1":0,"y1":0,"x2":1.206,"y2":0.541,"stops":[
{"offset":0,"color":"#8b1a1a"},{"offset":0.0245,"color":"#fff"},{"offset":0.0525,"color":"#fff"},
{"offset":0.07,"color":"#8b1a1a"},{"offset":0.0945,"color":"#fff"},{"offset":0.1225,"color":"#fff"},
{"offset":0.14,"color":"#8b1a1a"},{"offset":0.1645,"color":"#fff"},{"offset":0.1925,"color":"#fff"},
{"offset":0.21,"color":"#8b1a1a"},{"offset":0.2345,"color":"#fff"},{"offset":0.2625,"color":"#fff"},
{"offset":0.28,"color":"#8b1a1a"},{"offset":0.3045,"color":"#fff"},{"offset":0.3325,"color":"#fff"},
{"offset":0.35,"color":"#8b1a1a"},{"offset":0.3745,"color":"#fff"},{"offset":0.4025,"color":"#fff"},
{"offset":0.42,"color":"#8b1a1a"},{"offset":0.4445,"color":"#fff"},{"offset":0.4725,"color":"#fff"},
{"offset":0.49,"color":"#8b1a1a"},{"offset":0.5145,"color":"#fff"},{"offset":0.5425,"color":"#fff"},
{"offset":0.56,"color":"#8b1a1a"},{"offset":0.5845,"color":"#fff"},{"offset":0.6125,"color":"#fff"},
{"offset":0.63,"color":"#8b1a1a"},{"offset":0.6545,"color":"#fff"},{"offset":0.6825,"color":"#fff"},
{"offset":0.7,"color":"#8b1a1a"},{"offset":0.7245,"color":"#fff"},{"offset":0.7525,"color":"#fff"},
{"offset":0.77,"color":"#8b1a1a"},{"offset":0.7945,"color":"#fff"},{"offset":0.8225,"color":"#fff"},
{"offset":0.84,"color":"#8b1a1a"},{"offset":0.8645,"color":"#fff"},{"offset":0.8925,"color":"#fff"},
{"offset":0.91,"color":"#8b1a1a"},{"offset":0.9345,"color":"#fff"},{"offset":0.9625,"color":"#fff"},
{"offset":0.98,"color":"#8b1a1a"},{"offset":1,"color":"#d8a0a0"}]}},
  "encoding":{"x":{"datum":0.5,"type":"quantitative","scale":{"domain":[0,1],"range":[1160,1199],"nice":false,"zero":false},"axis":null},"y":{"field":"row","type":"quantitative","scale":{"domain":[0,2],"range":[713.5,780.7],"nice":false,"zero":false},"axis":null}}},
 {"transform":[{"filter":"datum.row == 2"}],"mark":{"type":"point","shape":"M-1,-0.46L1,0.46","size":1467,"filled":false,"color":"#8b1a1a","strokeWidth":1.2,"opacity":1},
  "encoding":{"x":{"datum":0.5,"type":"quantitative","scale":{"domain":[0,1],"range":[1160,1199],"nice":false,"zero":false},"axis":null},"y":{"field":"row","type":"quantitative","scale":{"domain":[0,2],"range":[713.5,780.7],"nice":false,"zero":false},"axis":null}}},
 {"transform":[{"filter":"datum.row == 2"}],"mark":{"type":"point","shape":"square","filled":true,"size":137,"color":"#800000","opacity":1},
  "encoding":{"x":{"datum":0.5,"type":"quantitative","scale":{"domain":[0,1],"range":[1160,1199],"nice":false,"zero":false},"axis":null},"y":{"field":"row","type":"quantitative","scale":{"domain":[0,2],"range":[713.5,780.7],"nice":false,"zero":false},"axis":null}}},
 {"mark":{"type":"text","align":"left","baseline":"middle","dx":34.5,"dy":1,"fontSize":21,"color":"#111"},
  "encoding":{"x":{"datum":0.5,"type":"quantitative","scale":{"domain":[0,1],"range":[1160,1199],"nice":false,"zero":false},"axis":null},"y":{"field":"row","type":"quantitative","scale":{"domain":[0,2],"range":[713.5,780.7],"nice":false,"zero":false},"axis":null},"text":{"field":"item"}}}
]}
]
}
